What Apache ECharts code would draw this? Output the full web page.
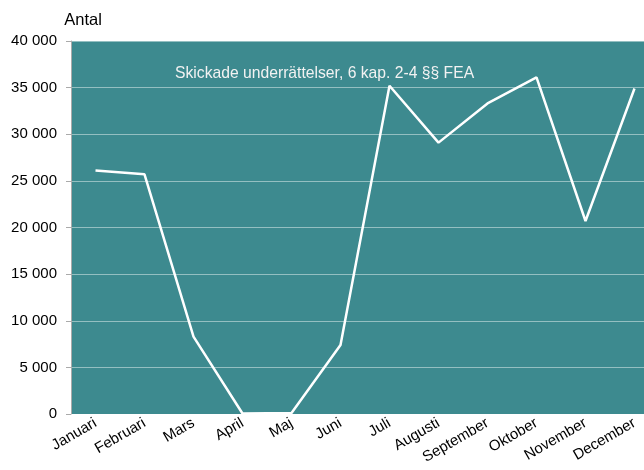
<!DOCTYPE html>
<html style="height: 100%">
<head>
    <meta charset="utf-8">
    <script src="https://cdn.jsdelivr.net/npm/echarts@6/dist/echarts.min.js"></script>
</head>
<body style="height: 100%; margin: 0; overflow: hidden">
    <!-- plot runs past the right edge of the picture, so the chart is a bit wider than the window -->
    <div id="main" style="width: 659px; height: 470px"></div>
    <script type="text/javascript">
        var months = ['Januari', 'Februari', 'Mars', 'April', 'Maj', 'Juni', 'Juli',
            'Augusti', 'September', 'Oktober', 'November', 'December'];
        var seriesName = 'Skickade underrättelser, 6 kap. 2-4 §§ FEA';
        var values = [26100, 25700, 8300, 50, 100, 7400, 35200, 29100, 33300, 36100, 20700, 34900];

        var myChart = echarts.init(document.getElementById('main'));

        var font = '"Liberation Sans", Arial, sans-serif';

        var option = {
            animation: false,
            textStyle: { fontFamily: font },
            grid: {
                left: 71,
                top: 41,
                right: 0,
                bottom: 56,
                show: true,
                backgroundColor: '#3d8a8f',
                borderWidth: 0
            },
            legend: {
                data: [seriesName],
                icon: 'none',
                top: 61,
                left: 140,
                textStyle: { color: '#f2f2f2', fontSize: 15.7, fontFamily: font }
            },
            xAxis: {
                type: 'category',
                data: months,
                boundaryGap: true,
                axisLine: { show: false },
                axisTick: { show: false },
                axisLabel: {
                    rotate: 30,
                    color: '#000',
                    fontSize: 15,
                    margin: 8,
                    interval: 0
                }
            },
            yAxis: {
                type: 'value',
                min: 0,
                max: 40000,
                interval: 5000,
                name: 'Antal',
                nameLocation: 'end',
                nameGap: 12,
                nameTextStyle: { color: '#000', fontSize: 16.5, align: 'center', padding: [0, 0, 0, 24] },
                axisLine: { show: true, lineStyle: { color: '#aaaaaa', width: 1 } },
                axisTick: { show: true, length: 5, lineStyle: { color: '#aaaaaa' } },
                splitLine: { lineStyle: { color: 'rgba(255,255,255,0.45)', width: 1 } },
                axisLabel: {
                    color: '#000',
                    fontSize: 15,
                    margin: 14,
                    formatter: function (v) {
                        return String(v).replace(/\B(?=(\d{3})+(?!\d))/g, ' ');
                    }
                }
            },
            series: [{
                name: seriesName,
                type: 'line',
                data: values,
                symbol: 'none',
                lineStyle: { color: '#ffffff', width: 2.5 },
                itemStyle: { color: '#ffffff' }
            }]
        };

        myChart.setOption(option);
    </script>
</body>
</html>
